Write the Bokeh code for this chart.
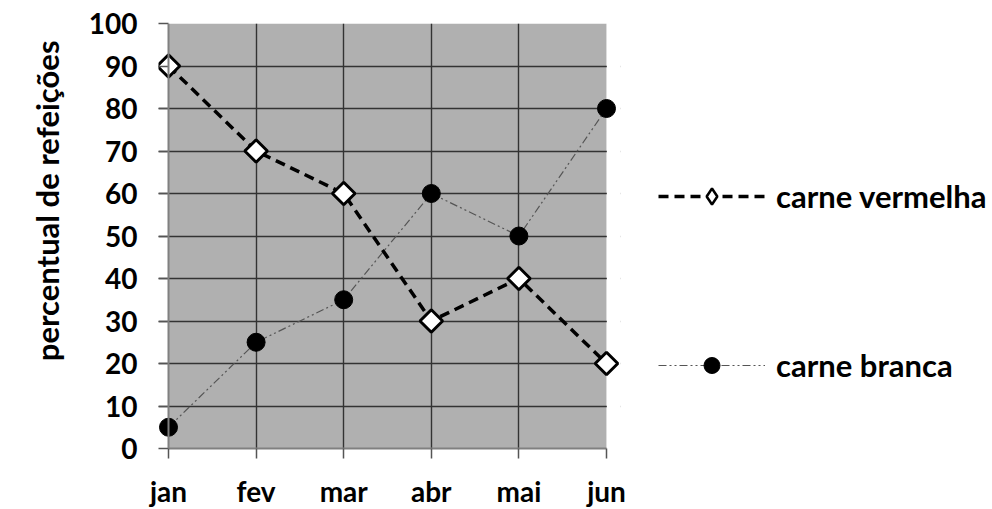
import numpy as np
from bokeh.plotting import figure
from bokeh.models import (Range1d, FixedTicker, Legend, LegendItem,
                          BoxAnnotation, Span, Title)
from bokeh.embed import file_html
from bokeh.resources import INLINE

months = ["jan", "fev", "mar", "abr", "mai", "jun"]
carne_vermelha = [90, 70, 60, 30, 40, 20]
carne_branca = [5, 25, 35, 60, 50, 80]
y_ticks = [0, 10, 20, 30, 40, 50, 60, 70, 80, 90, 100]

FONT = "Lato"
xs = list(range(len(months)))
n_last = len(months) - 1
UNIT = 87.6          # px per category step
PAD_L, PAD_R = 10, 14  # px of frame outside the grey area

p = figure(width=984, height=500, output_backend="svg", toolbar_location=None,
           x_range=Range1d(-PAD_L / UNIT, n_last + PAD_R / UNIT),
           y_range=Range1d(0, 100))
p.frame_width = int(UNIT * n_last + PAD_L + PAD_R)
p.frame_height = 425
p.min_border_left = 158
p.min_border_top = 23
p.min_border_right = 10
p.min_border_bottom = 10
p.background_fill_color = "white"
p.border_fill_color = "white"
p.outline_line_color = None

# grey plotting area
p.add_layout(BoxAnnotation(left=0, right=n_last, bottom=0, top=100,
                           fill_color="#b0b0b0", fill_alpha=1,
                           line_color=None, level="image"))

# axes
p.xaxis.ticker = FixedTicker(ticks=xs)
p.xaxis.major_label_overrides = {i: m for i, m in enumerate(months)}
p.xaxis.bounds = (0, n_last)
p.xaxis.major_tick_in = 0
p.xaxis.major_tick_out = 10
p.yaxis.ticker = FixedTicker(ticks=y_ticks)
p.yaxis.axis_line_color = None
p.yaxis.major_tick_in = PAD_L
p.yaxis.major_tick_out = 0
for ax in (p.xaxis[0], p.yaxis[0]):
    ax.major_tick_line_color = "#555555"
    ax.major_tick_line_width = 1.5
    ax.minor_tick_line_color = None
    ax.major_label_text_font = FONT
    ax.major_label_text_font_style = "bold"
    ax.major_label_text_font_size = "28px"
    ax.major_label_text_color = "black"
p.xaxis.axis_line_color = "#808080"
p.xaxis.axis_line_width = 2
p.xaxis.major_label_standoff = 15
p.yaxis.major_label_standoff = 21
p.add_layout(Span(location=0, dimension="height", line_color="#808080",
                  line_width=2))

ytitle = Title(text="percentual de refeições", align="right", offset=17,
               standoff=40, text_font=FONT, text_font_style="bold",
               text_font_size="31px", text_color="black")
p.add_layout(ytitle, "left")

# grid
p.xgrid.ticker = FixedTicker(ticks=xs[1:-1])
p.ygrid.ticker = FixedTicker(ticks=y_ticks[1:-1])
for g in (p.xgrid[0], p.ygrid[0]):
    g.grid_line_color = "#333333"
    g.grid_line_width = 1.4
# keep the strip right of the grey area free of grid lines
p.add_layout(BoxAnnotation(left=n_last + 0.004, right=n_last + 1,
                           bottom=0, top=100,
                           fill_color="white", fill_alpha=1,
                           line_color=None, level="underlay"))

# series: carne branca
lb = p.line(xs, carne_branca, line_color="#555555", line_width=1.2,
            line_dash="8 3 2 3 2 3")
sb = p.scatter(xs, carne_branca, marker="circle", size=18,
               fill_color="black", line_color="black")

# series: carne vermelha
lv = p.line(xs, carne_vermelha, line_color="black", line_width=3.5,
            line_dash="10 6")
sv = p.scatter(xs, carne_vermelha, marker="square", angle=np.pi / 4, size=16,
               fill_color="white", line_color="black", line_width=3)

# legend-only marker styles (placed outside the visible range)
far_x, far_y = [100], [50]
lg_v = p.scatter(far_x, far_y, marker="diamond", fill_color="white",
                 line_color="black", line_width=2.5)
lg_b = p.scatter(far_x, far_y, marker="circle", fill_color="black",
                 line_color="black")

legend = Legend(items=[
    LegendItem(label="carne vermelha", renderers=[lv, lg_v]),
    LegendItem(label="carne branca", renderers=[lb, lg_b]),
], location=(38, 63))
legend.padding = 0
legend.margin = 0
legend.border_line_color = None
legend.background_fill_alpha = 0
legend.glyph_width = 107
legend.glyph_height = 40
legend.label_height = 40
legend.label_standoff = 11
legend.spacing = 129
legend.label_text_font = FONT
legend.label_text_font_style = "bold"
legend.label_text_font_size = "31px"
legend.label_text_color = "black"
p.add_layout(legend, "right")

open("out.html", "w").write(file_html(p, INLINE))
